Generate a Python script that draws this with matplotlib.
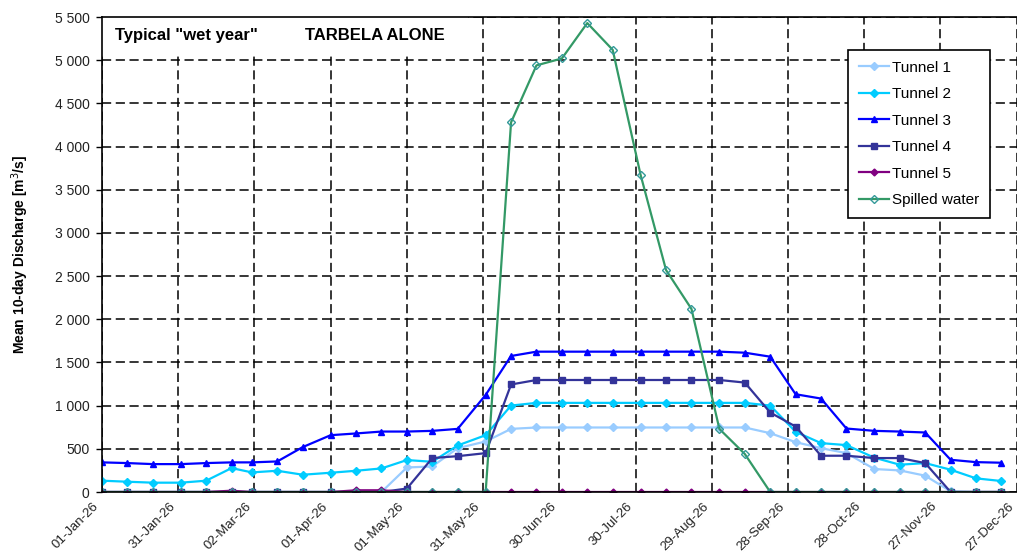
import datetime as dt
import matplotlib
matplotlib.use("Agg")
import matplotlib.pyplot as plt
import matplotlib.dates as mdates
from matplotlib.patches import Rectangle
from matplotlib.transforms import ScaledTranslation
from matplotlib.ticker import FuncFormatter, MultipleLocator

plt.rcParams['font.family'] = ['Liberation Sans', 'DejaVu Sans']

# 10-day periods (1st, 11th, 21st of each month)
dates = [dt.date(2026, m, d) for m in range(1, 13) for d in (1, 11, 21)]

tunnel1 = [0, 0, 0, 0, 0, 0, 0, 0, 0, 0, 0, 0,
           284, 296, 508, 585, 731,
           747, 747, 747, 747, 747, 747, 747, 747, 747,
           681, 577, 508, 450, 266, 250, 189, 8, 0, 0]
tunnel2 = [131, 119, 108, 108, 131, 277, 227, 246, 200, 223, 246, 273,
           370, 350, 539, 658, 1001,
           1032, 1032, 1032, 1032, 1032, 1032, 1032, 1032, 1032,
           1001, 697, 566, 543, 397, 316, 335, 258, 158, 127]
tunnel3 = [343, 335, 323, 323, 335, 343, 343, 354, 520, 658, 678, 700,
           700, 708, 731, 1124, 1575,
           1625, 1625, 1625, 1625, 1625, 1625, 1625, 1625, 1613,
           1567, 1132, 1082, 735, 708, 700, 689, 373, 346, 339]
tunnel4 = [0, 0, 0, 0, 0, 0, 0, 0, 0, 0, 0, 0,
           40, 393, 415, 450, 1245,
           1297, 1297, 1297, 1297, 1297, 1297, 1297, 1297, 1267,
           920, 758, 420, 420, 393, 393, 335, 0, 0, 0]
tunnel5 = [0, 0, 0, 0, 0, 15, 0, 0, 0, 0, 20, 20,
           0, 0, 0, 0, 0,
           0, 0, 0, 0, 0, 0, 0, 0, 0,
           0, 0, 0, 0, 0, 0, 0, 0, 0, 0]
spilled = [0, 0, 0, 0, 0, 0, 0, 0, 0, 0, 0, 0,
           0, 0, 0, 0, 4280,
           4940, 5020, 5430, 5120, 3670, 2570, 2120, 730, 440,
           0, 0, 0, 0, 0, 0, 0, 0, 0, 0]

tick_dates = [dt.date(2026, 1, 1) + dt.timedelta(days=30 * k) for k in range(13)]

fig = plt.figure(figsize=(10.17, 5.56), dpi=100)
ax = fig.add_axes([0.1003, 0.1151, 0.9, 0.8543])

ax.plot(dates, tunnel1, color='#99CCFF', lw=1.6, marker='D', ms=4, label='Tunnel 1')
ax.plot(dates, tunnel2, color='#00CCFF', lw=1.6, marker='D', ms=4, label='Tunnel 2')
ax.plot(dates, tunnel3, color='#0000FF', lw=1.6, marker='^', ms=5, label='Tunnel 3')
ax.plot(dates, tunnel4, color='#333399', lw=1.6, marker='s', ms=5, label='Tunnel 4')
ax.plot(dates, tunnel5, color='#800080', lw=1.6, marker='D', ms=3.5, label='Tunnel 5')
ax.plot(dates, spilled, color='#339966', lw=1.6, marker='D', ms=4.5,
        mfc='none', mec='#339999', mew=1.0, label='Spilled water')

ax.set_ylim(0, 5500)
ax.yaxis.set_major_locator(MultipleLocator(500))
ax.yaxis.set_major_formatter(FuncFormatter(lambda v, p: f"{int(v):,}".replace(",", " ")))
ax.set_xlim(dt.date(2026, 1, 1), dt.datetime(2026, 12, 27, 6))
ax.set_xticks(tick_dates)
ax.xaxis.set_major_formatter(mdates.DateFormatter('%d-%b-%y'))
ax.tick_params(axis='y', labelsize=10, colors='#222222', length=4, width=1, pad=5)
ax.tick_params(axis='x', labelsize=9.5, colors='#222222', length=0, pad=9)
ax.tick_params(axis='y', color='black')

# rotated date labels, nudged left so their ends sit on the gridlines
shift = ScaledTranslation(-5 / 100, 0, fig.dpi_scale_trans)
for lbl in ax.get_xticklabels():
    lbl.set_rotation(45)
    lbl.set_ha('right')
    lbl.set_va('center')
    lbl.set_rotation_mode('anchor')
    lbl.set_transform(lbl.get_transform() + shift)

ax.grid(True, color='black', lw=1.1, linestyle=(0, (6, 3)))
ax.set_axisbelow(True)
ax.spines['right'].set_visible(False)
for s in ('left', 'top', 'bottom'):
    ax.spines[s].set_color('black')
    ax.spines[s].set_linewidth(1.2)

ax.set_ylabel('Mean 10-day Discharge [m$^3$/s]', fontsize=10, fontweight='bold', labelpad=17)

# white panel behind the heading
ax.add_patch(Rectangle((0, 0.918), 0.40, 0.082, transform=ax.transAxes,
                       facecolor='white', edgecolor='none', zorder=1))
ax.text(0.014, 0.962, 'Typical "wet year"', transform=ax.transAxes, fontsize=12,
        fontweight='bold', va='center', ha='left', zorder=3)
ax.text(0.222, 0.962, 'TARBELA ALONE', transform=ax.transAxes, fontsize=12,
        fontweight='bold', va='center', ha='left', zorder=3)

leg = ax.legend(loc='upper left', bbox_to_anchor=(0.815, 0.9305), fontsize=11,
                frameon=True, fancybox=False, edgecolor='black', framealpha=1,
                borderaxespad=0, handlelength=2.0, labelspacing=0.82,
                borderpad=0.7, handletextpad=0.2)
leg.get_frame().set_linewidth(1.2)

fig.savefig('out.png', dpi=100)
